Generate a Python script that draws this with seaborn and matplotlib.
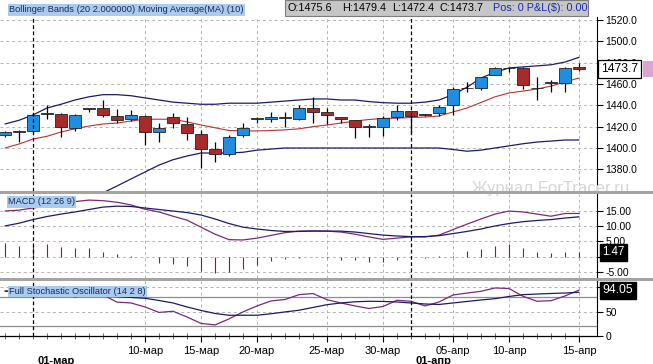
import matplotlib
matplotlib.use('Agg')
import matplotlib.pyplot as plt
import seaborn as sns
import numpy as np
import pandas as pd
from matplotlib.patches import Rectangle

sns.set_theme(style='white')
plt.rcParams['font.family'] = ['Liberation Sans', 'DejaVu Sans']

# trading days (Sunday sessions included)
dates = ['2011-02-27', '2011-02-28', '2011-03-01', '2011-03-02', '2011-03-03', '2011-03-04',
         '2011-03-06', '2011-03-07', '2011-03-08', '2011-03-09', '2011-03-10', '2011-03-11',
         '2011-03-13', '2011-03-14', '2011-03-15', '2011-03-16', '2011-03-17', '2011-03-18',
         '2011-03-20', '2011-03-21', '2011-03-22', '2011-03-23', '2011-03-24', '2011-03-25',
         '2011-03-27', '2011-03-28', '2011-03-29', '2011-03-30', '2011-03-31', '2011-04-01',
         '2011-04-03', '2011-04-04', '2011-04-05', '2011-04-06', '2011-04-07', '2011-04-08',
         '2011-04-10', '2011-04-11', '2011-04-12', '2011-04-13', '2011-04-14', '2011-04-15']

opens = [1412, 1415, 1416, 1432, 1432, 1419, 1437, 1437.5, 1430, 1427, 1430, 1415,
         1429, 1422.5, 1413, 1399, 1394, 1412, 1427, 1427.5, 1428, 1427, 1437.5, 1434,
         1429, 1426, 1420, 1420, 1429, 1434.7, 1431.5, 1433, 1440, 1456, 1456, 1468.5,
         1475, 1475, 1456, 1461, 1461, 1475.6]
highs = [1416, 1417, 1432, 1440, 1433, 1432, 1437.5, 1445, 1436.6, 1435.6, 1431, 1423,
         1433, 1429, 1417, 1405.6, 1412, 1423.4, 1429, 1434, 1434, 1440, 1448, 1437.5,
         1429.5, 1426.5, 1422.5, 1430, 1440, 1435, 1432, 1440, 1457, 1462, 1467, 1475.5,
         1476, 1475.5, 1466.6, 1464, 1475.5, 1479.4]
lows = [1410, 1405.5, 1414, 1427, 1410, 1416, 1434, 1429, 1423.4, 1425, 1403, 1406,
        1419, 1407.5, 1381, 1387, 1392.5, 1410, 1423.5, 1424, 1420, 1426, 1423.4, 1422.5,
        1423, 1409, 1410, 1411, 1426, 1414, 1430, 1430, 1431, 1452.5, 1454, 1468,
        1471, 1455, 1445, 1452.5, 1452.5, 1472.4]
closes = [1415, 1415.3, 1431, 1432.5, 1420, 1431, 1436.5, 1431, 1426, 1431, 1415, 1419,
          1423, 1414, 1399, 1394.4, 1410, 1419, 1427.3, 1429, 1428.3, 1437.5, 1434, 1431,
          1427, 1420, 1420.3, 1428, 1434.7, 1430, 1430.6, 1438.5, 1455, 1456.3, 1466.6, 1475,
          1474.6, 1459, 1456.3, 1461.2, 1475, 1473.7]

bb_upper = [1422.5, 1426, 1431, 1437.5, 1441, 1445, 1448, 1450, 1450, 1449, 1447, 1445,
            1443, 1442, 1441, 1441, 1442, 1442, 1442, 1443, 1444, 1445, 1446, 1446,
            1445, 1445, 1443.5, 1442.5, 1442, 1442, 1443, 1445, 1450, 1457, 1465.6, 1471,
            1475, 1476, 1477, 1478, 1480.6, 1485]
bb_lower = [np.nan, np.nan, np.nan, np.nan, np.nan, np.nan, 1352, 1358, 1364.4, 1371, 1377.5, 1384,
            1389, 1392.5, 1395.3, 1395.3, 1395.3, 1396, 1398, 1399, 1400, 1400, 1400, 1400,
            1400, 1400, 1400, 1400, 1400, 1400, 1400, 1400, 1398.6, 1397, 1398, 1400,
            1402, 1404, 1405.6, 1406.5, 1407.5, 1407.5]
ma10 = [1400, 1403.75, 1408.4, 1411, 1415, 1418, 1420.6, 1422.5, 1423.4, 1425.3, 1427, 1427,
        1427, 1424.4, 1421.6, 1419, 1416.4, 1416, 1416, 1416.4, 1417, 1418, 1420, 1421.6,
        1423.4, 1425.3, 1426.7, 1427.7, 1428, 1428.6, 1429, 1430, 1433.75, 1437.5, 1442.7, 1448,
        1451.6, 1453.4, 1455.3, 1458, 1462, 1465.6]

macd = [15.0, 15.3, 16.0, 16.6, 17.3, 18.1, 18.6, 18.4, 17.9, 17.0, 15.6, 14.7,
        13.3, 12.0, 9.7, 7.4, 5.6, 5.5, 6.1, 7.0, 7.9, 8.4, 8.5, 8.4,
        8.1, 7.4, 6.5, 5.7, 6.1, 6.5, 6.5, 7.1, 8.9, 10.7, 12.4, 14.0,
        15.0, 14.7, 14.0, 13.3, 14.2, 14.2]
macd_signal = [10.1, 11.0, 12.2, 13.2, 14.0, 14.7, 15.5, 16.3, 16.6, 16.5, 16.0, 15.5,
               15.0, 14.5, 13.7, 12.4, 10.9, 9.7, 9.1, 8.6, 8.3, 8.3, 8.4, 8.4,
               8.4, 8.1, 7.6, 7.1, 6.8, 6.6, 6.6, 6.9, 7.6, 8.3, 9.1, 10.1,
               10.9, 11.5, 11.9, 12.2, 12.7, 13.1]
macd_hist = [4.4, 3.5, 3.8, 4.1, 3.1, 2.7, 2.7, 1.6, 0.8, 0.2, -0.1, -2.0,
             -2.4, -3.0, -4.7, -5.2, -4.9, -4.1, -2.7, -1.4, -0.9, -0.3, -0.2, -0.3,
             -1.0, -1.1, -1.6, -1.6, -1.1, -0.2, -0.3, 0.1, 0.3, 1.9, 2.5, 3.6,
             4.2, 2.7, 1.6, 1.1, 1.4, 1.47]

stoch_k = [92, 92, 90, 88, 86, 80, 85, 84, 69.5, 67.7, 59.5, 48.3,
           50.7, 39, 25.8, 22.7, 35, 49.3, 61.6, 71.8, 74.8, 84.7, 87, 74.4,
           67.7, 61.6, 56.4, 60.5, 73.2, 71.2, 61.6, 69.7, 84, 88, 91.6, 98.4,
           97.3, 81.4, 71.2, 72.4, 82, 94.05]
stoch_d = [92, 92, 91, 90, 89, 87, 85, 83, 80.6, 79, 77.3, 72.8,
           67.7, 59.5, 52.4, 46.2, 42.5, 42.5, 42.5, 45.6, 49.3, 52.8, 58.5, 64.2,
           67.7, 70.1, 71.2, 70.8, 69.7, 67.7, 65.6, 64.6, 67.7, 70.8, 73.8, 76.5,
           81, 84.7, 86, 87.1, 88.1, 89.6]

tick_dates = ['2011-03-10', '2011-03-15', '2011-03-20', '2011-03-25', '2011-03-30',
              '2011-04-05', '2011-04-10', '2011-04-15']
month_dates = ['2011-03-01', '2011-04-01']
months_ru = {3: 'мар', 4: 'апр'}

price_ticks = [1380, 1400, 1420, 1440, 1460, 1480, 1500, 1520]
macd_ticks = [-5, 0, 5, 10, 15]
stoch_ticks = [0, 50, 100]

df = pd.DataFrame({'date': pd.to_datetime(dates), 'open': opens, 'high': highs,
                   'low': lows, 'close': closes, 'bb_upper': bb_upper, 'bb_lower': bb_lower,
                   'ma': ma10, 'macd': macd, 'signal': macd_signal, 'hist': macd_hist,
                   'k': stoch_k, 'd': stoch_d})
df['x'] = np.arange(len(df))
pos = {d: i for i, d in enumerate(df['date'])}
tick_idx = [pos[pd.Timestamp(d)] for d in tick_dates]
tick_lab = [f"{pd.Timestamp(d).day:02d}-{months_ru[pd.Timestamp(d).month]}" for d in tick_dates]
month_idx = [pos[pd.Timestamp(d)] for d in month_dates]

W, H = 653, 364
fig = plt.figure(figsize=(W / 100, H / 100), dpi=100)


def rect(top, bottom):
    return [0, 1 - bottom / H, 597 / W, (bottom - top) / H]


ax1 = fig.add_axes(rect(17, 191))
ax2 = fig.add_axes(rect(194, 278), sharex=ax1)
ax3 = fig.add_axes(rect(281, 336), sharex=ax1)

navy = '#1c1c66'
purple = '#7a2a78'
grid_kw = dict(color='#b4b4b4', ls=(0, (3, 3)), lw=0.7)

# candles
up = df['close'] >= df['open']
body_col = np.where(up, '#1f8de2', '#a82a2a')
ax1.vlines(df['x'], df['low'], df['high'], color='black', lw=0.9, zorder=3)
ax1.bar(df['x'], (df['close'] - df['open']).abs().clip(lower=0.7),
        bottom=df[['open', 'close']].min(axis=1), width=0.84, color=body_col,
        edgecolor='#222222', linewidth=0.6, zorder=4)

sns.lineplot(data=df, x='x', y='bb_upper', ax=ax1, color=navy, lw=0.9, estimator=None, zorder=2)
sns.lineplot(data=df, x='x', y='bb_lower', ax=ax1, color=navy, lw=0.9, estimator=None, zorder=2)
sns.lineplot(data=df, x='x', y='ma', ax=ax1, color='#b83232', lw=0.8, estimator=None, zorder=2)

# MACD
ax2.vlines(df['x'], 0, df['hist'], color='#8a2020', lw=0.8, zorder=2)
sns.lineplot(data=df, x='x', y='macd', ax=ax2, color=purple, lw=0.9, estimator=None, zorder=3)
sns.lineplot(data=df, x='x', y='signal', ax=ax2, color=navy, lw=0.9, estimator=None, zorder=3)

# stochastic
for lvl in (20, 80):
    ax3.axhline(lvl, color='#8c8c8c', lw=0.9, zorder=1)
sns.lineplot(data=df, x='x', y='k', ax=ax3, color=purple, lw=0.9, estimator=None, zorder=3)
sns.lineplot(data=df, x='x', y='d', ax=ax3, color=navy, lw=0.9, estimator=None, zorder=3)

ax1.set_ylim(1359.7, 1522.8)
ax2.set_ylim(-7.0, 20.6)
ax3.set_ylim(0, 112.7)
ax1.set_xlim(-5 / 14, 592 / 14)

for ax, ticks, fmt in ((ax1, price_ticks, '{:.1f}'), (ax2, macd_ticks, '{:.2f}'), (ax3, stoch_ticks, '{:d}')):
    ax.set_xlabel('')
    ax.set_ylabel('')
    ax.set_facecolor('white')
    ax.yaxis.tick_right()
    ax.set_yticks(ticks)
    ax.set_yticklabels([fmt.format(t) for t in ticks])
    ax.tick_params(axis='y', direction='out', length=4, width=0.8, pad=2, labelsize=7.5,
                   colors='black', right=True)
    ax.set_xticks(tick_idx)
    ax.grid(True, **grid_kw)
    for s in ('left', 'top', 'bottom'):
        ax.spines[s].set_visible(False)
    ax.spines['right'].set_color('black')
    ax.spines['right'].set_linewidth(0.8)
    for m in month_idx:
        ax.axvline(m, color='black', ls=(0, (3, 2)), lw=0.9, zorder=5)

for ax in (ax1, ax2):
    ax.tick_params(axis='x', length=0, labelbottom=False)

ax3.spines['bottom'].set_visible(True)
ax3.spines['bottom'].set_color('black')
ax3.spines['bottom'].set_linewidth(0.9)
ax3.set_xticklabels(tick_lab)
ax3.set_xticks(df['x'], minor=True)
ax3.tick_params(axis='x', which='major', direction='out', length=4, width=0.8, pad=3,
                labelsize=8, colors='black', bottom=True)
ax3.tick_params(axis='x', which='minor', direction='inout', length=4, width=0.6,
                color='#555555', bottom=True)
ax3.grid(False, axis='y')
for lvl in (50, 100):
    ax3.axhline(lvl, **grid_kw, zorder=0)

for m, d in zip(month_idx, month_dates):
    ts = pd.Timestamp(d)
    ax3.annotate(f"{ts.day:02d}-{months_ru[ts.month]}", xy=(m, 0), xycoords=ax3.get_xaxis_transform(),
                 xytext=(3, -18), textcoords='offset points', ha='left', va='center',
                 fontsize=8, fontweight='bold', color='black', annotation_clip=False)

# last value boxes
ax1.annotate(f"{closes[-1]:.1f}", xy=(1, closes[-1]), xycoords=ax1.get_yaxis_transform(),
             xytext=(3, 0), textcoords='offset points', ha='left', va='center', fontsize=8.8,
             color='black', annotation_clip=False, zorder=10,
             bbox=dict(boxstyle='square,pad=0.25', fc='white', ec='black', lw=0.9))
ax2.annotate(f"{macd_hist[-1]:.2f}", xy=(1, macd_hist[-1]), xycoords=ax2.get_yaxis_transform(),
             xytext=(4, 0), textcoords='offset points', ha='left', va='center', fontsize=8.3,
             color='white', annotation_clip=False, zorder=10,
             bbox=dict(boxstyle='square,pad=0.2', fc='black', ec='black'))
ax3.annotate(f"{stoch_k[-1]:.2f}", xy=(1, stoch_k[-1]), xycoords=ax3.get_yaxis_transform(),
             xytext=(4, 0), textcoords='offset points', ha='left', va='center', fontsize=8.8,
             color='white', annotation_clip=False, zorder=10,
             bbox=dict(boxstyle='square,pad=0.2', fc='black', ec='black'))

fig.canvas.draw()
y_last = fig.transFigure.inverted().transform(ax1.transData.transform((0, closes[-1])))[1]
fig.patches.append(Rectangle((643 / W, y_last - 8 / H), 10 / W, 16 / H, transform=fig.transFigure,
                             fc='#d9a6d4', ec='none', zorder=1))

# separators between panels
for top in (190.5, 277.5):
    fig.patches.append(Rectangle((0, 1 - (top + 3) / H), 1, 3 / H, transform=fig.transFigure,
                                 fc='#a4a4a4', ec='none', zorder=20))

fig.text(472 / W, 1 - 188 / H, 'Журнал ForTracer.ru', fontsize=12, color='#d6d6d6',
         ha='left', va='center', zorder=6)

# legend labels
lab_kw = dict(fontsize=6.7, color='#1c2a5c', ha='left', va='center', zorder=30,
              bbox=dict(boxstyle='square,pad=0.15', fc='#a9cbee', ec='none'))
fig.text(9 / W, 1 - 10 / H, 'Bollinger Bands (20 2.000000)', **lab_kw)
fig.text(138 / W, 1 - 10 / H, 'Moving Average(MA) (10)', **lab_kw)
fig.text(8 / W, 1 - 202 / H, 'MACD (12 26 9)', **lab_kw)
fig.text(9 / W, 1 - 291.5 / H, 'Full Stochastic Oscillator (14 2 8)', **lab_kw)

# OHLC header
fig.patches.append(Rectangle((285 / W, 1 - 16 / H), 303 / W, 16 / H, transform=fig.transFigure,
                             fc='#c6c6c6', ec='#7c7c7c', lw=0.8, zorder=25))
hdr = [(288, f"O:{opens[-1]}", 'black'), (342, f"H:{highs[-1]}", 'black'),
       (392, f"L:{lows[-1]}", 'black'), (440, f"C:{closes[-1]}", 'black'),
       (493, 'Pos: 0 P&L($): 0.00', '#1c28b4')]
for xp, txt, col in hdr:
    fig.text(xp / W, 1 - 8 / H, txt, fontsize=7.8, color=col, ha='left', va='center', zorder=30)

fig.savefig('out.png', dpi=100)
